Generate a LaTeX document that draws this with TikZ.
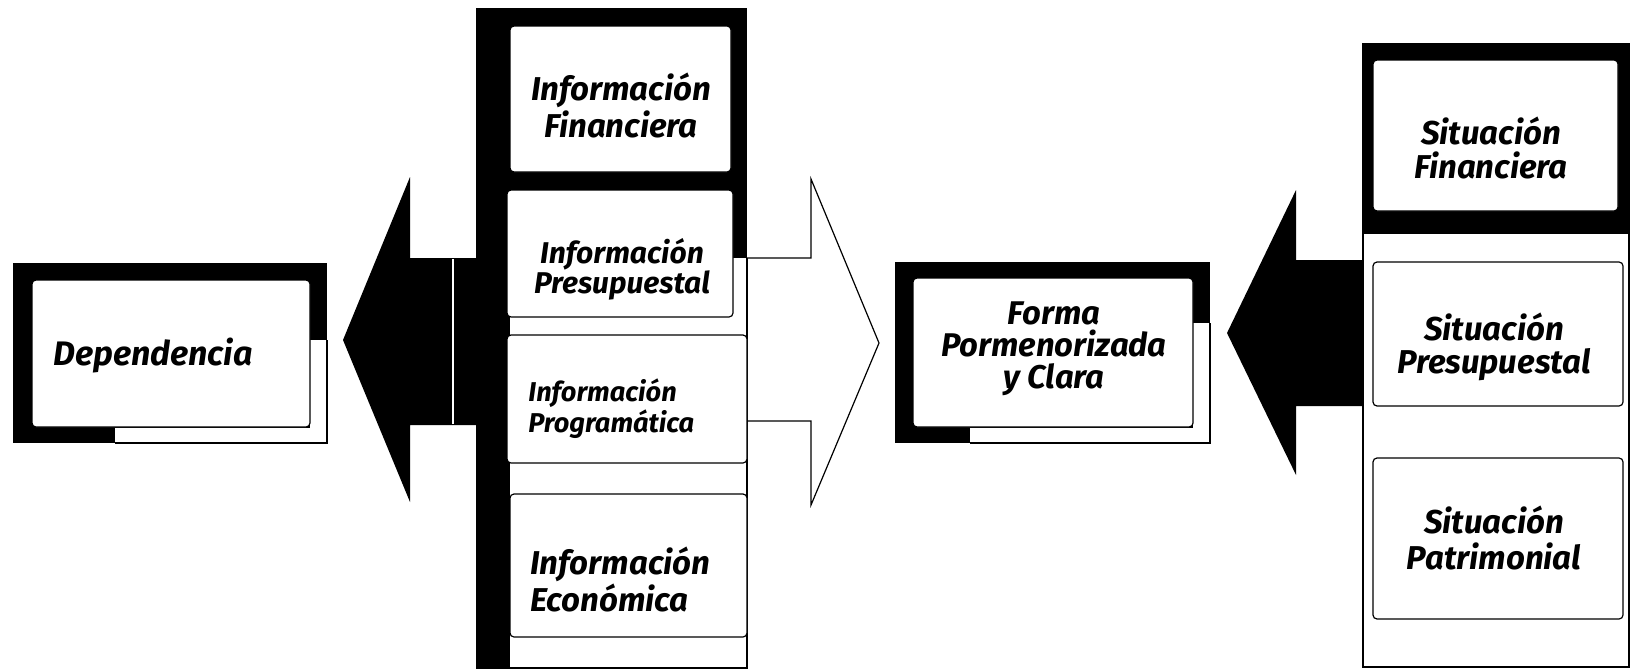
\documentclass[tikz,border=0pt]{standalone}
\usepackage{fontspec}
\setmainfont{Fira Sans}
\usetikzlibrary{fit}
\newcommand{\lblfont}[2]{\bfseries\itshape\fontsize{#1}{#2}\selectfont}
\begin{document}
\begin{tikzpicture}[x=0.5pt,y=-0.5pt,
  inbox/.style={draw=black, line width=0.6pt, fill=white, rounded corners=2pt, inner sep=0pt},
  lbl/.style={align=center, inner sep=0pt, anchor=base},
  lbll/.style={align=left, inner sep=0pt, anchor=base west},
  thinline/.style={draw=black, line width=0.6pt}
]
\useasboundingbox[fill=white] (0,0) rectangle (1631,669);

% ---------- Dependencia ----------
\fill (13,263) rectangle (327,443);
\fill[white] (310,340) rectangle (326.5,442.5);
\fill[white] (115,428) rectangle (326.5,442.5);
\draw[thinline] (115,443) -- (327,443) -- (327,340);
\node[inbox, fit={(32,280)(310,427)}] (dep) {};
\node[lbll, font=\lblfont{17}{17}] (depT) at (53,365) {Dependencia};

% ---------- left black arrow ----------
\fill (476,258) -- (410,258) -- (410,177) -- (343,340) -- (410,502) -- (410,425) -- (476,425) -- cycle;
\draw[white, line width=0.8pt] (453,259) -- (453,424);

% ---------- Informacion column ----------
\fill (476,8) rectangle (747,258);
\fill (476,8) rectangle (510,669);
\draw[thinline] (747,258) -- (747,668) -- (510,668);
\node[inbox, fit={(510,26)(731,172)}] (i1) {};
\node[inbox, fit={(507,190)(733,317)}] (i2) {};
\node[inbox, fit={(507,335)(747,463)}] (i3) {};
\node[inbox, fit={(510,494)(747,637)}] (i4) {};
\node[lbl, font=\lblfont{16.5}{16.5}] (i1t) at (621,137) {Información\\Financiera};
\node[lbl, font=\lblfont{15}{15}] (i2t) at (622,293) {Información\\Presupuestal};
\node[lbll, font=\lblfont{13.6}{13.5}] (i3t) at (528,432) {Información\\Programática};
\node[lbll, font=\lblfont{16.5}{16}] (i4t) at (530,611) {Información\\Económica};

% ---------- outline arrow ----------
\draw[thinline, line join=miter] (747,258) -- (811,258) -- (811,179) -- (879,343) -- (811,505) -- (811,421) -- (747,421);

% ---------- Forma box ----------
\fill (895,262) rectangle (1210,443);
\fill[white] (1193,323) rectangle (1209.5,442.5);
\fill[white] (970,428) rectangle (1209.5,442.5);
\draw[thinline] (970,443) -- (1210,443) -- (1210,323);
\node[inbox, fit={(913,278)(1193,427)}] (forma) {};
\node[lbl, font=\lblfont{16.4}{16}] (formaT) at (1054,388) {Forma\\Pormenorizada\\y Clara};

% ---------- right black arrow ----------
\fill (1363,260) -- (1296,260) -- (1296,190) -- (1227,333) -- (1296,475) -- (1296,406) -- (1363,406) -- cycle;

% ---------- Situacion column ----------
\draw[thinline] (1363,44) rectangle (1629,667);
\fill (1363,44) rectangle (1629,234);
\node[inbox, fit={(1373,60)(1618,211)}] (s1) {};
\node[inbox, fit={(1373,262)(1623,406)}] (s2) {};
\node[inbox, fit={(1373,458)(1623,619)}] (s3) {};
\node[lbl, font=\lblfont{16.5}{17}] (s1t) at (1491,178) {Situación\\Financiera};
\node[lbl, font=\lblfont{16.5}{16.5}] (s2t) at (1494,373) {Situación\\Presupuestal};
\node[lbl, font=\lblfont{16.5}{18}] (s3t) at (1494,569) {Situación\\Patrimonial};
\end{tikzpicture}
\end{document}
